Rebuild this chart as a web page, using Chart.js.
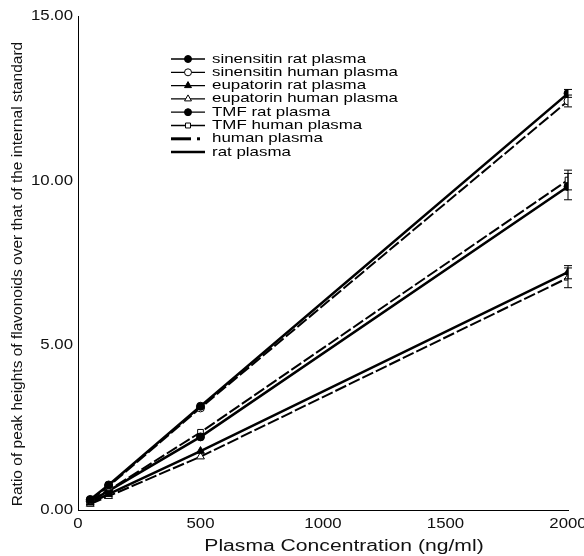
<!DOCTYPE html>
<html>
<head>
<meta charset="utf-8">
<script src="https://cdn.jsdelivr.net/npm/chart.js@4"></script>
<style>
  html, body { margin: 0; padding: 0; background: #fff; }
  #wrap { width: 584px; height: 556px; }
</style>
</head>
<body>
<div id="wrap"><canvas id="chart" width="584" height="556"></canvas></div>
<script>
// concentrations (ng/ml)
const concentrations = [50, 125, 500, 2000];

// peak height ratios
const sinensitinRat   = [0.32, 0.76, 3.15, 12.65];
const sinensitinHuman = [0.30, 0.72, 3.10, 12.42];
const eupatorinRat    = [0.22, 0.48, 1.79, 7.22];
const eupatorinHuman  = [0.18, 0.42, 1.62, 7.05];
const tmfRat          = [0.26, 0.58, 2.22, 9.82];
const tmfHuman        = [0.28, 0.60, 2.36, 10.02];

// error bars at the top concentration only
const errSinRat = [0, 0, 0, 0.12];
const errSinHuman = [0, 0, 0, 0.18];
const errEupRat = [0, 0, 0, 0.2];
const errEupHuman = [0, 0, 0, 0.3];
const errTmfRat = [0, 0, 0, 0.4];
const errTmfHuman = [0, 0, 0, 0.3];

const yTicks = [0, 5, 10, 15];
const xTicks = [0, 500, 1000, 1500, 2000];

const legendLabels = [
  'sinensitin rat plasma', 'sinensitin human plasma', 'eupatorin rat plasma',
  'eupatorin human plasma', 'TMF rat plasma', 'TMF human plasma',
  'human plasma', 'rat plasma'
];

const xTitle = 'Plasma Concentration (ng/ml)';
const yTitle = 'Ratio of peak heights of flavonoids over that of the internal standard';

const FONT = '"Liberation Sans", Arial, sans-serif';

function pts(vals) {
  return concentrations.map((c, i) => ({ x: c, y: vals[i] }));
}

function series(label, vals, errs, rat, style) {
  return {
    label: label,
    data: pts(vals),
    errs: errs,
    borderColor: '#000',
    borderWidth: rat ? 2.5 : 2,
    borderDash: rat ? [] : [12, 3],
    pointStyle: style,
    pointRadius: style === 'triangle' ? 4.5 : 4,
    pointBackgroundColor: rat ? '#000' : '#fff',
    pointBorderColor: '#000',
    pointBorderWidth: 1,
    fill: false,
    tension: 0
  };
}

const datasets = [
  series('sinensitin rat plasma', sinensitinRat, errSinRat, true, 'circle'),
  series('sinensitin human plasma', sinensitinHuman, errSinHuman, false, 'circle'),
  series('eupatorin rat plasma', eupatorinRat, errEupRat, true, 'triangle'),
  series('eupatorin human plasma', eupatorinHuman, errEupHuman, false, 'triangle'),
  series('TMF rat plasma', tmfRat, errTmfRat, true, 'circle'),
  series('TMF human plasma', tmfHuman, errTmfHuman, false, 'rect')
];

// the original lettering is drawn a bit wide
function wideText(ctx, text, x, y, align, sx) {
  ctx.save();
  ctx.translate(x, y);
  ctx.scale(sx, 1);
  ctx.textAlign = align;
  ctx.fillText(text, 0, 0);
  ctx.restore();
}

// draws the error bars
const errorBars = {
  id: 'errorBars',
  afterDatasetsDraw(chart) {
    const ctx = chart.ctx;
    const xs = chart.scales.x, ys = chart.scales.y;
    ctx.save();
    ctx.strokeStyle = '#000';
    ctx.lineWidth = 1;
    chart.data.datasets.forEach(ds => {
      ds.data.forEach((p, i) => {
        const e = ds.errs[i];
        if (!e) return;
        const px = xs.getPixelForValue(p.x);
        const top = ys.getPixelForValue(p.y + e);
        const bot = ys.getPixelForValue(p.y - e);
        ctx.beginPath();
        ctx.moveTo(px, top); ctx.lineTo(px, bot);
        ctx.moveTo(px - 4, top); ctx.lineTo(px + 4, top);
        ctx.moveTo(px - 4, bot); ctx.lineTo(px + 4, bot);
        ctx.stroke();
      });
    });
    ctx.restore();
  }
};

// tick labels and axis titles
const axisText = {
  id: 'axisText',
  afterDraw(chart) {
    const ctx = chart.ctx;
    const xs = chart.scales.x, ys = chart.scales.y;
    const area = chart.chartArea;
    ctx.save();
    ctx.fillStyle = '#111';
    ctx.textBaseline = 'middle';
    ctx.font = '14px ' + FONT;
    xTicks.forEach(v => {
      wideText(ctx, String(v), xs.getPixelForValue(v), area.bottom + 14, 'center', 1.2);
    });
    yTicks.forEach(v => {
      wideText(ctx, v.toFixed(2), area.left - 5, ys.getPixelForValue(v), 'right', 1.2);
    });
    ctx.font = '16px ' + FONT;
    wideText(ctx, xTitle, 344, area.bottom + 37, 'center', 1.32);
    ctx.font = '15.5px ' + FONT;
    ctx.translate(18, 274);
    ctx.rotate(-Math.PI / 2);
    ctx.textAlign = 'center';
    ctx.fillText(yTitle, 0, 0);
    ctx.restore();
  }
};

// legend inside the plot, like the original
const boxLegend = {
  id: 'boxLegend',
  afterDraw(chart) {
    const ctx = chart.ctx;
    const x0 = 171, x1 = 205, tx = 212;
    let y = 59;
    const step = 13.3;
    ctx.save();
    ctx.font = '13px ' + FONT;
    ctx.textBaseline = 'middle';
    legendLabels.forEach((lab, i) => {
      const ds = chart.data.datasets[i];
      ctx.strokeStyle = '#000';
      ctx.setLineDash([]);
      if (ds) {
        ctx.lineWidth = 1.3;
        ctx.beginPath(); ctx.moveTo(x0, y); ctx.lineTo(x1, y); ctx.stroke();
        ctx.lineWidth = 1;
        ctx.fillStyle = ds.pointBackgroundColor;
        Chart.helpers.drawPoint(ctx, {
          pointStyle: ds.pointStyle, radius: ds.pointRadius - 0.5, rotation: 0, borderWidth: 1
        }, (x0 + x1) / 2, y);
      } else if (lab === 'human plasma') {
        ctx.lineWidth = 3;
        ctx.beginPath(); ctx.moveTo(x0, y); ctx.lineTo(x0 + 20, y); ctx.stroke();
        ctx.beginPath(); ctx.moveTo(x0 + 26, y); ctx.lineTo(x0 + 29, y); ctx.stroke();
      } else {
        ctx.lineWidth = 2.5;
        ctx.beginPath(); ctx.moveTo(x0, y); ctx.lineTo(x1, y); ctx.stroke();
      }
      ctx.fillStyle = '#000';
      wideText(ctx, lab, tx, y, 'left', 1.3);
      y += step;
    });
    ctx.restore();
  }
};

new Chart(document.getElementById('chart'), {
  type: 'line',
  data: { datasets: datasets },
  options: {
    responsive: false,
    animation: false,
    layout: { padding: { top: 16, right: 16, left: 0, bottom: 0 } },
    plugins: { legend: { display: false }, tooltip: { enabled: false } },
    scales: {
      x: {
        type: 'linear',
        min: 0, max: 2000,
        afterBuildTicks(axis) { axis.ticks = xTicks.map(v => ({ value: v })); },
        grid: { display: false, drawTicks: true, tickLength: 4, tickColor: '#000' },
        border: { color: '#000', width: 1 },
        ticks: { display: false },
        afterFit(axis) { axis.height = 46; }
      },
      y: {
        type: 'linear',
        min: 0, max: 15,
        afterBuildTicks(axis) { axis.ticks = yTicks.map(v => ({ value: v })); },
        grid: { display: false, drawTicks: true, tickLength: 4, tickColor: '#000' },
        border: { color: '#000', width: 1 },
        ticks: { display: false },
        afterFit(axis) { axis.width = 78; }
      }
    }
  },
  plugins: [errorBars, axisText, boxLegend]
});
</script>
</body>
</html>
